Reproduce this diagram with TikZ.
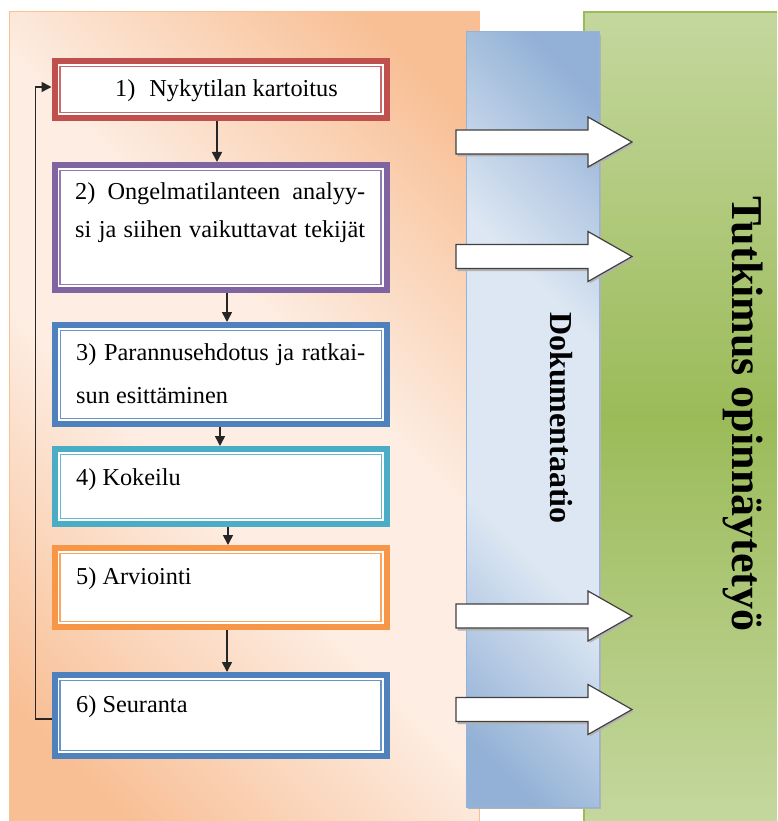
\documentclass[tikz,border=0pt]{standalone}
\usepackage{fontspec}
\setmainfont{Liberation Serif}
\usetikzlibrary{arrows.meta,calc}
\definecolor{odark}{HTML}{F8BF95}
\definecolor{olight}{HTML}{FDEDE2}
\definecolor{oborder}{HTML}{FAC090}
\definecolor{bdark}{HTML}{93B1D6}
\definecolor{blight}{HTML}{DDE7F3}
\definecolor{bborder}{HTML}{95B3D7}
\definecolor{gdark}{HTML}{9BBB59}
\definecolor{glight}{HTML}{C4D79E}
\definecolor{gborder}{HTML}{9BBB59}
\definecolor{cone}{HTML}{C0504D}
\definecolor{ctwo}{HTML}{8064A2}
\definecolor{cthree}{HTML}{4F81BD}
\definecolor{cfour}{HTML}{4BACC6}
\definecolor{cfive}{HTML}{F79646}
\definecolor{csix}{HTML}{4F81BD}
\pgfdeclareverticalshading{oshade}{100bp}{color(0bp)=(odark); color(21bp)=(odark); color(43bp)=(olight); color(57bp)=(olight); color(79bp)=(odark); color(100bp)=(odark)}
\pgfdeclareverticalshading{bshade}{100bp}{color(0bp)=(bdark); color(20bp)=(bdark); color(39bp)=(blight); color(61bp)=(blight); color(80bp)=(bdark); color(100bp)=(bdark)}
\tikzset{
  stepbox/.style={draw=#1, line width=6pt, fill=white, inner sep=0pt,
    minimum width=332pt},
  boxtext/.style={anchor=base west, inner sep=0pt,
    font=\fontsize{24.3}{29}\selectfont},
  conn/.style={line width=1.6pt, black!85,
    -{Triangle[length=10pt,width=10pt]}},
  barrow/.pic={
    \fill[black!30] (1.5,-10.5) -- (133.5,-10.5) -- (133.5,-23) -- (177.5,2) -- (133.5,27) -- (133.5,14.5) -- (1.5,14.5) -- cycle;
    \draw[fill=white, draw=black!75, line width=1.2pt, line join=miter]
      (0,-12) -- (132,-12) -- (132,-25) -- (176,0) -- (132,25) -- (132,12) -- (0,12) -- cycle;
  }
}
\begin{document}
\begin{tikzpicture}[x=1pt,y=-1pt]
\useasboundingbox (0,0) rectangle (777,821);
\fill[white] (0,0) rectangle (777,821);
% orange panel
\shade[shading=oshade, shading angle=-45] (9,12) rectangle (479,821);
\draw[oborder, line width=1pt] (9,821) -- (9,12) -- (479,12) -- (479,821);
% green panel
\shade[top color=glight, bottom color=glight, middle color=gdark] (584,12) rectangle (777,821);
\draw[gborder, line width=1.5pt] (584,821) -- (584,12) -- (777,12);
% blue column
\fill[black!30] (468,35) rectangle (601,809);
\shade[shading=bshade, shading angle=-45] (466,32) rectangle (599,807);
\draw[bborder, line width=1pt] (466,32) rectangle (599,807);

% boxes
\node[stepbox=cone,   minimum height=57pt]  (b1) at (220.5,89.5) {};
\node[stepbox=ctwo,   minimum height=125pt] (b2) at (220.5,227.5) {};
\node[stepbox=cthree, minimum height=99pt]  (b3) at (221,374.5) {};
\node[stepbox=cfour,  minimum height=75pt]  (b4) at (221,486.5) {};
\node[stepbox=cfive,  minimum height=79pt]  (b5) at (220.5,587.5) {};
\node[stepbox=csix,   minimum height=81pt]  (b6) at (220.5,715.5) {};
\foreach \n/\c in {b1/cone,b2/ctwo,b3/cthree,b4/cfour,b5/cfive,b6/csix}{
  \draw[\c!85, line width=1.3pt] ([shift={(8.5,8.5)}]\n.north west) rectangle ([shift={(-8.5,-8.5)}]\n.south east);
}

% texts
\node[boxtext] (t1) at (115,97) {1)\hspace{14pt}Nykytilan kartoitus};
\node[boxtext] (t2a) at (75,199) {\makebox[290pt][s]{2) Ongelmatilanteen analyy-}};
\node[boxtext] (t2b) at (75,237) {\makebox[290pt][s]{si ja siihen vaikuttavat tekijät}};
\node[boxtext] (t3a) at (76,360) {\makebox[289pt][s]{3) Parannusehdotus ja ratkai-}};
\node[boxtext] (t3b) at (76,403) {sun esittäminen};
\node[boxtext] (t4) at (76,485) {4) Kokeilu};
\node[boxtext] (t5) at (76,584) {5) Arviointi};
\node[boxtext] (t6) at (76,712) {6) Seuranta};

% connectors
\draw[conn] ([xshift=-3.5pt]b1.south) -- ([xshift=-3.5pt]b1.south |- b2.north);
\draw[conn] ([xshift=6.5pt]b2.south) -- ([xshift=6.5pt]b2.south |- b3.north);
\draw[conn] ([xshift=-1pt]b3.south) -- ([xshift=-1pt]b3.south |- b4.north);
\draw[conn] ([xshift=7pt]b4.south) -- ([xshift=7pt]b4.south |- b5.north);
\draw[conn] ([xshift=6.5pt]b5.south) -- ([xshift=6.5pt]b5.south |- b6.north);
\draw[conn] ([yshift=-3.5pt]b6.west) -- ++(-16,0) |- ([yshift=2.5pt]b1.west);

% block arrows
\pic at (456,142) {barrow};
\pic at (456,256.5) {barrow};
\pic at (456,616) {barrow};
\pic at (456,709.5) {barrow};

% vertical titles
\node[rotate=-90, inner sep=0pt, font=\bfseries\fontsize{32}{36}\selectfont] (dok) at (561,418) {Dokumentaatio};
\node[rotate=-90, inner sep=0pt, font=\bfseries\fontsize{44}{48}\selectfont] (tut) at (743,414) {Tutkimus opinnäytetyö};
\end{tikzpicture}
\end{document}
